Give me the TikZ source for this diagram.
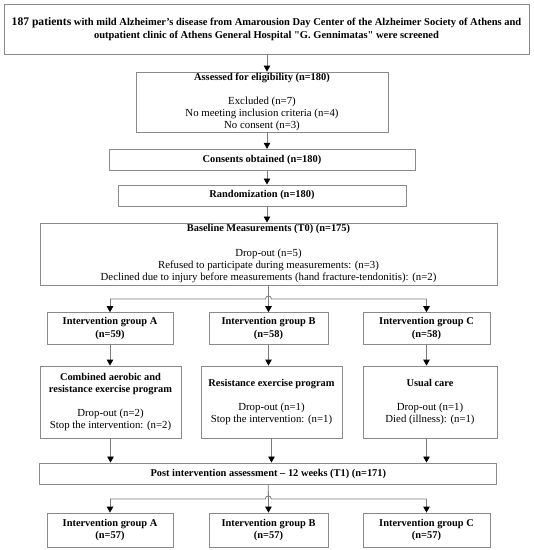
\documentclass[tikz,border=0pt]{standalone}
\usepackage{fontspec}
\setmainfont{Liberation Serif}
\usetikzlibrary{arrows.meta,calc}
\definecolor{boxgray}{HTML}{8A8A8A}
\definecolor{linegray}{HTML}{7A7A7A}
\newcommand\myfs{\fontsize{10.8}{12.3}\selectfont}
\newcommand\tb[1]{{\fontsize{10.4}{12.3}\selectfont\bfseries #1}}
\begin{document}
\begin{tikzpicture}[x=1pt,y=-1pt,
  box/.style={draw=boxgray, line width=0.8pt, align=center, inner sep=0pt, font=\myfs},
  conn/.style={draw=linegray, line width=0.8pt},
  arr/.style={draw=linegray, line width=0.8pt, -{Triangle[length=6pt,width=6.5pt,color=black]}}]
\useasboundingbox (0,0) rectangle (534,550);
\fill[white] (0,0) rectangle (534,550);
% boxes
\node[box, minimum width=525, minimum height=50, font=\fontsize{10.5}{13.5}\selectfont\bfseries] (top) at (266.5,29)
  {{\fontsize{11.6}{12}\selectfont 187 patients} with mild Alzheimer's disease from Amarousion Day Center of the Alzheimer Society of Athens and\\
   outpatient clinic of Athens General Hospital \textquotedbl G. Gennimatas\textquotedbl{} were screened};
\node[box, minimum width=252, minimum height=60] (assess) at (262,102)
  {\tb{Assessed for eligibility (n=180)}\\[12pt] Excluded (n=7)\\ No meeting inclusion criteria (n=4)\\ No consent (n=3)};
\node[box, minimum width=306, minimum height=21] (consent) at (262,159.7) {\tb{Consents obtained (n=180)}};
\node[box, minimum width=288, minimum height=21] (random) at (262,195.4) {\tb{Randomization (n=180)}};
\node[box, minimum width=457, minimum height=62] (base) at (268.5,253.9)
  {\tb{Baseline Measurements (T0) (n=175)}\\[12pt] Drop-out (n=5)\\ Refused to participate during measurements: (n=3)\\ Declined due to injury before measurements (hand fracture-tendonitis): (n=2)};
% group row 1
\node[box, minimum width=126, minimum height=32] (gA) at (110,328.6) {\tb{Intervention group A}\\ \tb{(n=59)}};
\node[box, minimum width=119, minimum height=32] (gB) at (268.5,328.6) {\tb{Intervention group B}\\ \tb{(n=58)}};
\node[box, minimum width=127, minimum height=32] (gC) at (426.5,328.6) {\tb{Intervention group C}\\ \tb{(n=58)}};
% programs
\node[box, minimum width=141, minimum height=72] (pA) at (110.5,402)
  {\tb{Combined aerobic and}\\ \tb{resistance exercise program}\\[12pt] Drop-out (n=2)\\ Stop the intervention: (n=2)};
\node[box, minimum width=141, minimum height=72] (pB) at (271.5,402)
  {\tb{Resistance exercise program}\\[12pt] Drop-out (n=1)\\ Stop the intervention: (n=1)};
\node[box, minimum width=134, minimum height=72] (pC) at (430,402)
  {\tb{Usual care}\\[12pt] Drop-out (n=1)\\ Died (illness): (n=1)};
% post
\node[box, minimum width=457, minimum height=21.5] (post) at (268.3,473.7) {\tb{Post intervention assessment -- 12 weeks (T1) (n=171)}};
% final row
\node[box, minimum width=126, minimum height=34] (fA) at (110,530) {\tb{Intervention group A}\\ \tb{(n=57)}};
\node[box, minimum width=119, minimum height=34] (fB) at (268.5,530) {\tb{Intervention group B}\\ \tb{(n=57)}};
\node[box, minimum width=127, minimum height=34] (fC) at (426.5,530) {\tb{Intervention group C}\\ \tb{(n=57)}};
% spine
\coordinate (spine) at (267,0);
\draw[arr] (top.south -| spine) -- (assess.north -| spine);
\draw[arr] (assess.south -| spine) -- (consent.north -| spine);
\draw[arr] (consent.south -| spine) -- (random.north -| spine);
\draw[arr] (random.south -| spine) -- (base.north -| spine);
% split 1
\coordinate (h1) at ($(base.south |- 0,299)$);
\draw[arr] (base.south) -- (gB.north);
\draw[conn] (gA.north |- h1) -- ($(h1)+(-3,0)$) .. controls ($(h1)+(-3,-4)$) and ($(h1)+(3,-4)$) .. ($(h1)+(3,0)$) -- (gC.north |- h1);
\draw[arr] (gA.north |- h1) -- (gA.north);
\draw[arr] (gC.north |- h1) -- (gC.north);
% groups to programs
\draw[arr] (gA.south) -- (gA.south |- pA.north);
\draw[arr] (gB.south) -- (gB.south |- pB.north);
\draw[arr] (gC.south) -- (gC.south |- pC.north);
% programs to post
\draw[arr] (pA.south) -- (pA.south |- post.north);
\draw[arr] (pB.south) -- (pB.south |- post.north);
\draw[arr] (gC.south |- pC.south) -- (gC.south |- post.north);
% split 2
\coordinate (h2) at ($(post.south |- 0,499)$);
\draw[arr] (post.south) -- (fB.north);
\draw[conn] (fA.north |- h2) -- ($(h2)+(-3,0)$) .. controls ($(h2)+(-3,-4)$) and ($(h2)+(3,-4)$) .. ($(h2)+(3,0)$) -- (fC.north |- h2);
\draw[arr] (fA.north |- h2) -- (fA.north);
\draw[arr] (fC.north |- h2) -- (fC.north);
\end{tikzpicture}
\end{document}
